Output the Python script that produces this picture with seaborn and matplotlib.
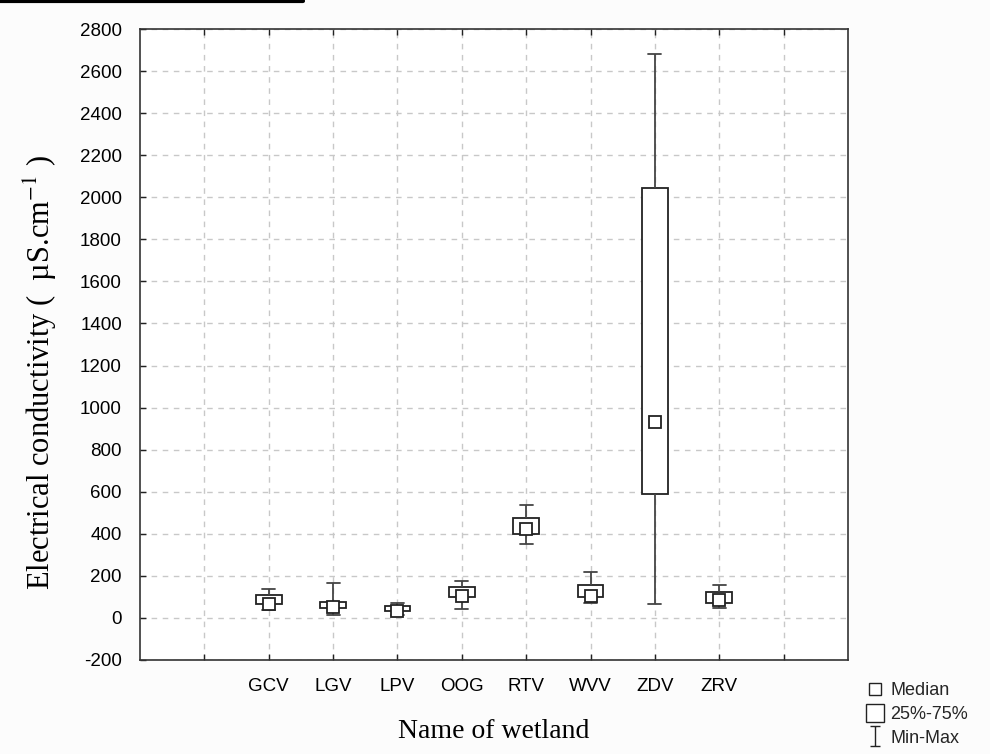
import numpy as np
import pandas as pd
import matplotlib
matplotlib.use("Agg")
import matplotlib.pyplot as plt
from matplotlib.lines import Line2D
from matplotlib.path import Path
import seaborn as sns

# ---- data ----
wetlands = ["GCV", "LGV", "LPV", "OOG", "RTV", "WVV", "ZDV", "ZRV"]
ec_min = [38, 13, 14, 41, 353, 73, 65, 49]
ec_q1 = [70, 49, 35, 100, 398, 100, 588, 73]
ec_median = [68, 50, 33, 106, 425, 105, 932, 86]
ec_q3 = [108, 76, 56, 146, 474, 158, 2042, 124]
ec_max = [139, 168, 71, 176, 536, 219, 2683, 158]
y_ticks = list(range(-200, 2801, 200))

# long table: five summary values per wetland -> exact quartiles with linear percentiles
rows = []
for i, w in enumerate(wetlands):
    for v in (ec_min[i], ec_q1[i], ec_median[i], ec_q3[i], ec_max[i]):
        rows.append({"wetland": w, "ec": v})
df = pd.DataFrame(rows)
med_df = pd.DataFrame({"wetland": wetlands, "ec": ec_median})

sns.set_theme(style="white")
plt.rcParams["font.family"] = ["Liberation Sans", "DejaVu Sans"]
plt.rcParams["mathtext.fontset"] = "stix"

fig = plt.figure(figsize=(9.9, 7.54), dpi=100, facecolor="#fcfcfc")
ax = fig.add_axes([140 / 990, 1 - 660 / 754, 708 / 990, 631 / 754])
ax.set_facecolor("white")

sns.boxplot(data=df, x="wetland", y="ec", order=wetlands, width=0.4,
            whis=np.inf, ax=ax, linewidth=1.3, linecolor="#222222",
            boxprops={"facecolor": "white", "edgecolor": "#222222", "zorder": 3},
            whiskerprops={"color": "#444444", "zorder": 3},
            capprops={"color": "#444444", "zorder": 3},
            medianprops={"visible": False})

sns.pointplot(data=med_df, x="wetland", y="ec", order=wetlands, ax=ax,
              linestyle="none", marker="s", errorbar=None, color="#222222",
              markersize=8.6, markerfacecolor="white",
              markeredgecolor="#222222", markeredgewidth=1.3, zorder=5)

ax.set_xlim(-2, len(wetlands) + 1)
ax.set_xticks(range(-1, len(wetlands) + 1))
ax.set_xticklabels([""] + wetlands + [""])
ax.set_ylim(-200, 2800)
ax.set_yticks(y_ticks)
ax.set_yticklabels([str(t) for t in y_ticks])

ax.grid(True, which="major", axis="both", color="#c8c8c8",
        linestyle=(0, (4, 4)), linewidth=1.0, zorder=0)
ax.set_axisbelow(True)
for s in ax.spines.values():
    s.set_visible(True)
    s.set_color("#333333")
    s.set_linewidth(1.2)
ax.tick_params(axis="both", direction="in", length=4, width=1, colors="#222222",
               labelsize=13.5, top=True, right=False, bottom=True, left=True,
               labelcolor="black")
ax.tick_params(axis="x", pad=13)
ax.tick_params(axis="y", pad=13)

ax.set_xlabel("Name of wetland", fontsize=20, family=["Liberation Serif"], color="black")
ax.xaxis.set_label_coords(0.5, -0.093)
ax.set_ylabel("Electrical conductivity (  µS.cm$^{-1}$ )", fontsize=22,
              family=["Liberation Serif"], color="black")
ax.yaxis.set_label_coords(-0.115, 0.455)

# legend
ibeam = Path([(-0.5, -1), (0.5, -1), (0, -1), (0, 1), (-0.5, 1), (0.5, 1)],
             [Path.MOVETO, Path.LINETO, Path.MOVETO, Path.LINETO, Path.MOVETO, Path.LINETO])
handles = [
    Line2D([], [], marker="s", ls="none", ms=8, mfc="white", mec="#222222", mew=1),
    Line2D([], [], marker="s", ls="none", ms=13, mfc="white", mec="#222222", mew=1),
    Line2D([], [], marker=ibeam, ls="none", ms=14, mfc="none", mec="#222222", mew=1),
]
fig.legend(handles, ["Median", "25%-75%", "Min-Max"], loc="upper left",
           bbox_to_anchor=(866 / 990, 1 - 682 / 754), frameon=False,
           fontsize=13, handlelength=1.0, handletextpad=0.35, labelspacing=0.38,
           borderpad=0, borderaxespad=0)

# thin black rule at the very top-left (cut-off heading)
fig.add_artist(Line2D([0, 303 / 990], [1 - 1 / 754, 1 - 1 / 754], color="black", lw=3,
                      transform=fig.transFigure))

fig.savefig("out.png", dpi=100, facecolor=fig.get_facecolor())
